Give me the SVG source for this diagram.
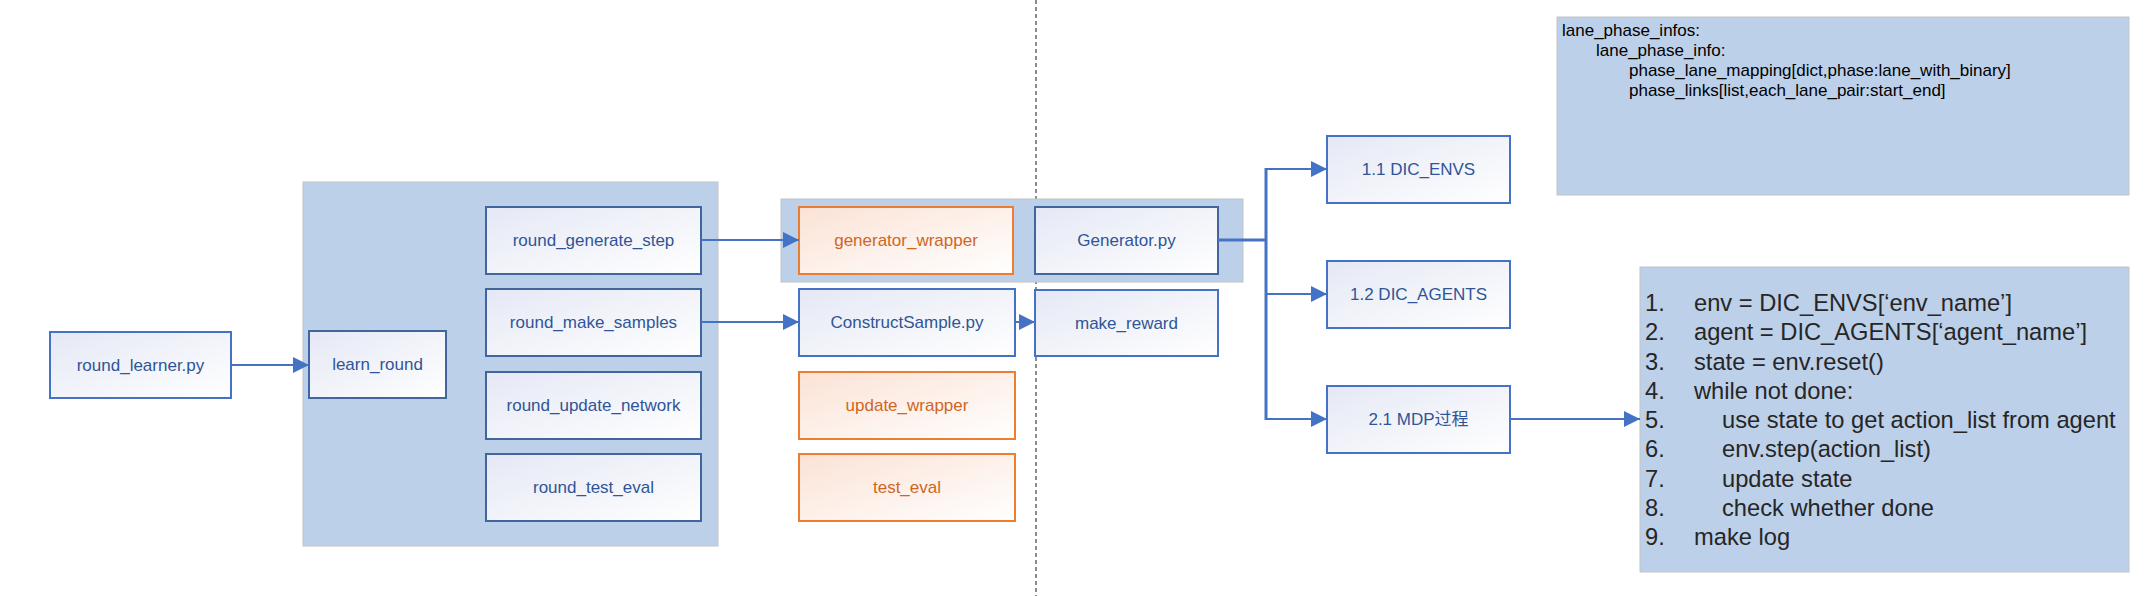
<svg xmlns="http://www.w3.org/2000/svg" width="2150" height="596" viewBox="0 0 2150 596">
<style>
.bg{fill:#ffffff}
.cont{fill:#bdd0e9;stroke:#c4c4c4;stroke-width:1}
.bbox{fill:url(#gb);stroke:#4472c4;stroke-width:2}
.ibox{fill:url(#gb);stroke:#41669e;stroke-width:2}
.obox{fill:url(#go);stroke:#ed7d31;stroke-width:2}
.lb{font-family:"Liberation Sans","Noto Sans CJK SC",sans-serif;font-size:17px;fill:#2f5597;text-anchor:middle;dominant-baseline:central}
.lo{font-family:"Liberation Sans",sans-serif;font-size:17px;fill:#d0661f;text-anchor:middle;dominant-baseline:central}
.info{font-family:"Liberation Sans",sans-serif;font-size:17px;fill:#000000}
.code{font-family:"Liberation Sans",sans-serif;font-size:23.7px;fill:#262626}
.conn{stroke:#4472c4;stroke-width:2;fill:none}
.thick{stroke:#4472c4;stroke-width:3;fill:none}
</style>
<defs>
<linearGradient id="gb" x1="0" y1="0" x2="1" y2="1">
<stop offset="0" stop-color="#e5e8f5"/>
<stop offset="1" stop-color="#ffffff"/>
</linearGradient>
<linearGradient id="go" x1="0" y1="0" x2="1" y2="1">
<stop offset="0" stop-color="#fbe2d5"/>
<stop offset="1" stop-color="#ffffff"/>
</linearGradient>
<marker id="ah" markerUnits="userSpaceOnUse" markerWidth="16" markerHeight="16" refX="16" refY="8" orient="auto">
<path d="M0,0 L16,8 L0,16 z" fill="#4472c4"/>
</marker>
</defs>
<rect class="bg" x="0" y="0" width="2150" height="596"/>
<line x1="1036" y1="0" x2="1036" y2="596" stroke="#404040" stroke-width="1.2" stroke-dasharray="4,3"/>

<g id="container-learn"><rect class="cont" x="303" y="182" width="415" height="364"/></g>
<g id="container-generator"><rect class="cont" x="781" y="199" width="462" height="83"/></g>

<g id="round_learner"><rect class="bbox" x="50" y="332" width="181" height="66"/><text class="lb" x="140.5" y="365">round_learner.py</text></g>
<g id="learn_round"><rect class="ibox" x="309" y="331" width="137" height="67"/><text class="lb" x="377.5" y="364.5">learn_round</text></g>
<g id="round_generate_step"><rect class="ibox" x="486" y="207" width="215" height="67"/><text class="lb" x="593.5" y="240.5">round_generate_step</text></g>
<g id="round_make_samples"><rect class="ibox" x="486" y="289" width="215" height="67"/><text class="lb" x="593.5" y="322.5">round_make_samples</text></g>
<g id="round_update_network"><rect class="ibox" x="486" y="372" width="215" height="67"/><text class="lb" x="593.5" y="405.5">round_update_network</text></g>
<g id="round_test_eval"><rect class="ibox" x="486" y="454" width="215" height="67"/><text class="lb" x="593.5" y="487.5">round_test_eval</text></g>

<g id="generator_wrapper"><rect class="obox" x="799" y="207" width="214" height="67"/><text class="lo" x="906" y="240.5">generator_wrapper</text></g>
<g id="generator_py"><rect class="ibox" x="1035" y="207" width="183" height="67"/><text class="lb" x="1126.5" y="240.5">Generator.py</text></g>
<g id="construct_sample"><rect class="bbox" x="799" y="289" width="216" height="67"/><text class="lb" x="907" y="322.5">ConstructSample.py</text></g>
<g id="make_reward"><rect class="bbox" x="1035" y="290" width="183" height="66"/><text class="lb" x="1126.5" y="323">make_reward</text></g>
<g id="update_wrapper"><rect class="obox" x="799" y="372" width="216" height="67"/><text class="lo" x="907" y="405.5">update_wrapper</text></g>
<g id="test_eval"><rect class="obox" x="799" y="454" width="216" height="67"/><text class="lo" x="907" y="487.5">test_eval</text></g>

<g id="dic_envs"><rect class="bbox" x="1327" y="136" width="183" height="67"/><text class="lb" x="1418.5" y="169.5">1.1 DIC_ENVS</text></g>
<g id="dic_agents"><rect class="bbox" x="1327" y="261" width="183" height="67"/><text class="lb" x="1418.5" y="294.5">1.2 DIC_AGENTS</text></g>
<g id="mdp"><rect class="bbox" x="1327" y="386" width="183" height="67"/><text class="lb" x="1418.5" y="419.5">2.1 MDP过程</text></g>

<g id="info-box">
<rect class="cont" x="1557" y="17" width="572" height="178"/>
<text class="info" x="1562" y="36">lane_phase_infos:</text>
<text class="info" x="1596" y="56">lane_phase_info:</text>
<text class="info" x="1629" y="76">phase_lane_mapping[dict,phase:lane_with_binary]</text>
<text class="info" x="1629" y="96">phase_links[list,each_lane_pair:start_end]</text>
</g>

<g id="code-box">
<rect class="cont" x="1640" y="267" width="489" height="305"/>
<text class="code" x="1645" y="311">1.</text><text class="code" x="1694" y="311">env = DIC_ENVS[‘env_name’]</text>
<text class="code" x="1645" y="340">2.</text><text class="code" x="1694" y="340">agent = DIC_AGENTS[‘agent_name’]</text>
<text class="code" x="1645" y="370">3.</text><text class="code" x="1694" y="370">state = env.reset()</text>
<text class="code" x="1645" y="399">4.</text><text class="code" x="1694" y="399">while not done:</text>
<text class="code" x="1645" y="428">5.</text><text class="code" x="1722" y="428">use state to get action_list from agent</text>
<text class="code" x="1645" y="457">6.</text><text class="code" x="1722" y="457">env.step(action_list)</text>
<text class="code" x="1645" y="487">7.</text><text class="code" x="1722" y="487">update state</text>
<text class="code" x="1645" y="516">8.</text><text class="code" x="1722" y="516">check whether done</text>
<text class="code" x="1645" y="545">9.</text><text class="code" x="1694" y="545">make log</text>
</g>

<g id="connectors">
<line class="conn" x1="231" y1="365" x2="309" y2="365" marker-end="url(#ah)"/>
<line class="conn" x1="701" y1="240" x2="799" y2="240" marker-end="url(#ah)"/>
<line class="conn" x1="701" y1="322" x2="799" y2="322" marker-end="url(#ah)"/>
<line class="conn" x1="1015" y1="322" x2="1035" y2="322" marker-end="url(#ah)"/>
<line class="thick" x1="1218" y1="240" x2="1267" y2="240"/>
<line class="thick" x1="1266" y1="168" x2="1266" y2="420"/>
<line class="conn" x1="1266" y1="169" x2="1327" y2="169" marker-end="url(#ah)"/>
<line class="conn" x1="1266" y1="294" x2="1327" y2="294" marker-end="url(#ah)"/>
<line class="conn" x1="1266" y1="419" x2="1327" y2="419" marker-end="url(#ah)"/>
<line class="conn" x1="1510" y1="419" x2="1640" y2="419" marker-end="url(#ah)"/>
</g>
</svg>
